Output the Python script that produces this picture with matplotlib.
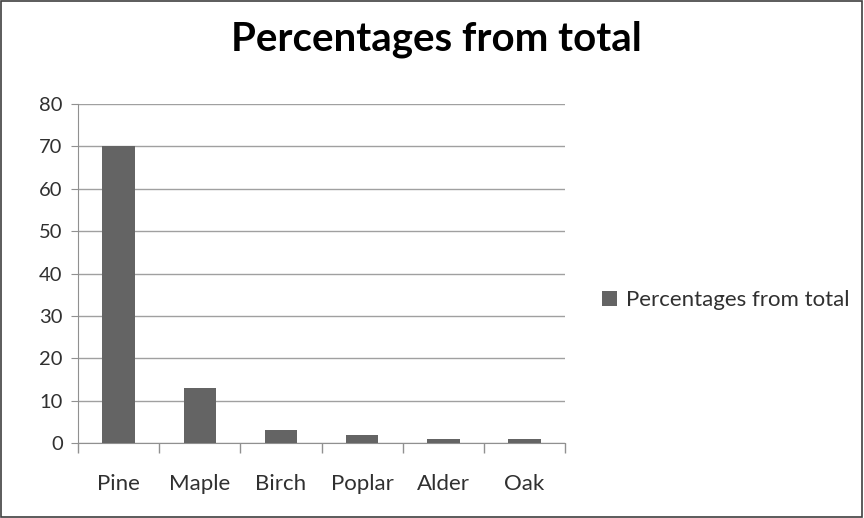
import numpy as np
import matplotlib.pyplot as plt
from matplotlib.patches import Rectangle

# Data
species = ['Pine', 'Maple', 'Birch', 'Poplar', 'Alder', 'Oak']
percentages = [70, 13, 3, 2, 1, 1]
y_ticks = [0, 10, 20, 30, 40, 50, 60, 70, 80]

plt.rcParams['font.family'] = ['Lato', 'DejaVu Sans']

fig = plt.figure(figsize=(8.64, 5.18), dpi=100)
ax = fig.add_axes([0.0903, 0.1448, 0.5637, 0.6544])

x = np.arange(len(species))
ax.bar(x, percentages, width=0.4, color='#646464', zorder=3,
       label='Percentages from total')

ax.set_xlim(-0.5, len(species) - 0.5)
ax.set_ylim(0, 80)
ax.set_yticks(y_ticks)
ax.yaxis.grid(True, color='#a0a0a0', linewidth=1.0, zorder=0)

# category ticks sit between the bars
ax.set_xticks(x)
ax.set_xticklabels(species, fontsize=16, color='#303030')
ax.tick_params(axis='x', length=0, pad=22)
ax.set_xticks(np.arange(-0.5, len(species)), minor=True)
ax.tick_params(axis='x', which='minor', length=7, color='#909090', width=1)
ax.tick_params(axis='y', length=5, color='#909090', labelsize=14.5,
               labelcolor='#303030', pad=6)

for side in ['top', 'right']:
    ax.spines[side].set_visible(False)
ax.spines['left'].set_color('#909090')
ax.spines['bottom'].set_color('#909090')

fig.suptitle('Percentages from total', fontsize=29, fontweight='bold',
             x=0.505, y=0.96, color='black')

fig.legend(loc='center left', bbox_to_anchor=(0.674, 0.42), frameon=False,
           fontsize=16, handlelength=0.65, handleheight=0.65, handletextpad=0.4,
           labelcolor='#303030')

# outer border around the whole chart
fig.patches.append(Rectangle((0.001, 0.002), 0.997, 0.996, transform=fig.transFigure,
                             fill=False, edgecolor='#404040', linewidth=1.2))

fig.savefig('out.png', dpi=100)
